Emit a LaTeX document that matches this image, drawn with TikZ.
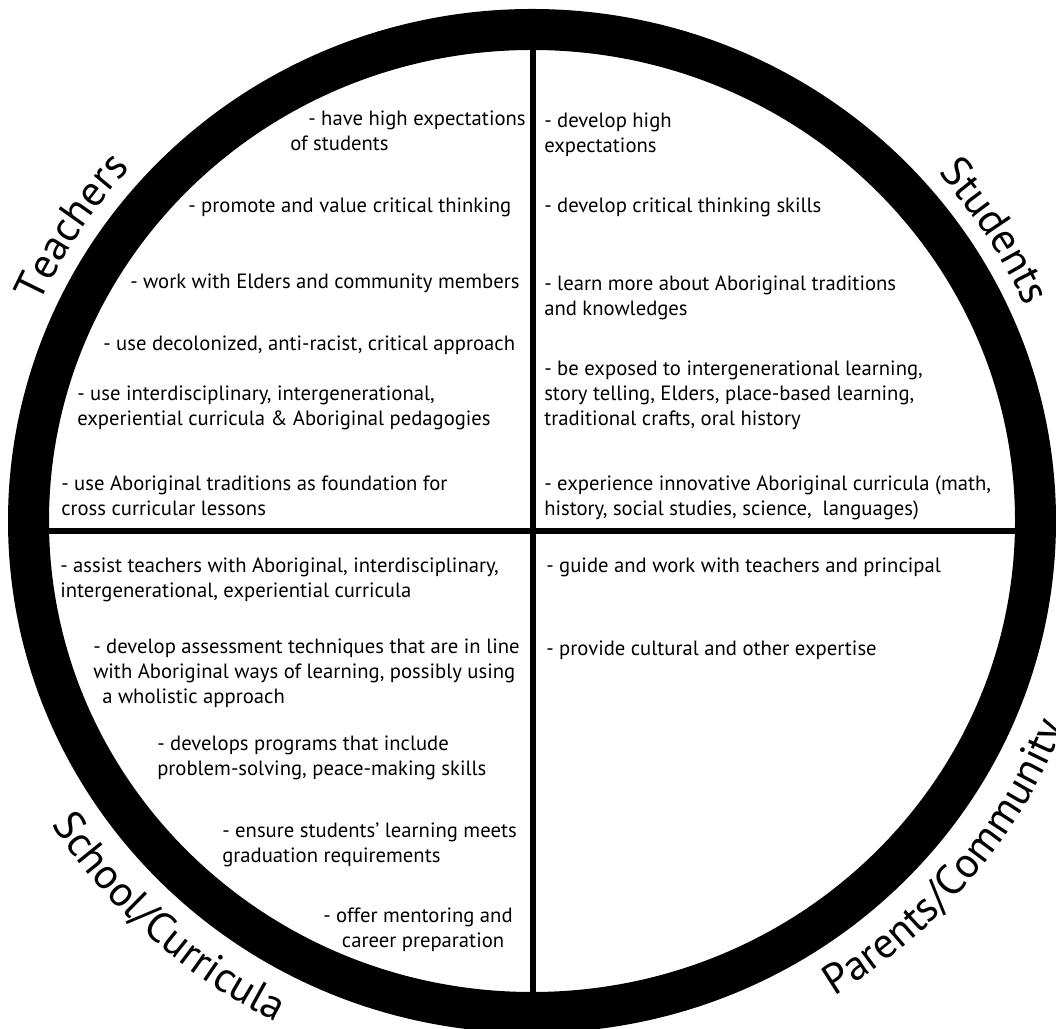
\documentclass[tikz,border=0pt]{standalone}
\usepackage{fontspec}
\setmainfont{PT Sans}
\usetikzlibrary{decorations.text}
\tikzset{
    item/.style={anchor=north west, align=left, inner sep=0pt, font=\fontsize{15.5}{19}\selectfont}, % one entry inside a quarter
    divider/.style={line width=4pt}, % the cross splitting the circle
    rim/.style={line width=30.75pt}, % the thick black ring
    rimlabel/.style={decorate, decoration={text along path, text align=center, text={|\rimfont|#1}}}, % curved group name
}
\newcommand{\rimfont}{\fontsize{32}{32}\selectfont}

\begin{document}
\begin{tikzpicture}[x=0.75pt, y=0.75pt]
    \useasboundingbox (0,0) rectangle (1056,1028);
    \clip (0,0) rectangle (1056,1028);
    \coordinate (c) at (532,507);
    \coordinate (top) at (533,1005);
    \coordinate (bottom) at (533,15);
    \coordinate (left) at (25,497);
    \coordinate (right) at (1040,497);
    \draw[divider] (top) -- (bottom);
    \draw[divider] (left) -- (right);
    \draw[rim] (c) ellipse[x radius=503.5, y radius=491.5];

    % group names round the ring
    \path[rimlabel=Teachers] (c) ++(172:540 and 528) arc[start angle=172, end angle=122, x radius=540, y radius=528];
    \path[rimlabel=Students] (c) ++(57.5:540 and 528) arc[start angle=57.5, end angle=7.5, x radius=540, y radius=528];
    \path[rimlabel=School/Curricula] (c) ++(198:572 and 560) arc[start angle=198, end angle=258, x radius=572, y radius=560];
    \path[rimlabel=Parents/Community] (c) ++(290.3:572 and 560) arc[start angle=290.3, end angle=350.3, x radius=572, y radius=560];

    % Teachers
    \node[item] (t1) at (290,920.7) {\strut\hspace*{13.5pt}- have high expectations\\of students};
    \node[item] (t2) at (188,833.7) {\strut- promote and value critical thinking};
    \node[item] (t3) at (130,757.7) {\strut- work with Elders and community members};
    \node[item] (t4) at (103,695.7) {\strut- use decolonized, anti-racist, critical approach};
    \node[item] (t5) at (77,645.7) {\strut- use interdisciplinary, intergenerational,\\experiential curricula \& Aboriginal pedagogies};
    \node[item] (t6) at (61,555.7) {\strut- use Aboriginal traditions as foundation for\\cross curricular lessons};

    % Students
    \node[item] (s1) at (544,918.7) {\strut- develop high\\expectations};
    \node[item] (s2) at (544,833.7) {\strut- develop critical thinking skills};
    \node[item] (s3) at (544,755.7) {\strut- learn more about Aboriginal traditions\\and knowledges};
    \node[item] (s4) at (544,670.7) {\strut- be exposed to intergenerational learning,\\story telling, Elders, place-based learning,\\traditional crafts, oral history};
    \node[item] (s5) at (544,555.7) {\strut- experience innovative Aboriginal curricula (math,\\history, social studies, science,\ \ languages)};

    % School/Curricula
    \node[item] (c1) at (60,473.7) {\strut- assist teachers with Aboriginal, interdisciplinary,\\intergenerational, experiential curricula};
    \node[item] (c2) at (93,392.7) {\strut- develop assessment techniques that are in line\\with Aboriginal ways of learning, possibly using\\\hspace*{6.75pt}a wholistic approach};
    \node[item] (c3) at (157,295.7) {\strut- develops programs that include\\problem-solving, peace-making skills};
    \node[item] (c4) at (222,208.7) {\strut- ensure students' learning meets\\graduation requirements};
    \node[item] (c5) at (323,123.7) {\strut- offer mentoring and\\\hspace*{14pt}career preparation};

    % Parents/Community
    \node[item] (p1) at (546,473.7) {\strut- guide and work with teachers and principal};
    \node[item] (p2) at (546,390.7) {\strut- provide cultural and other expertise};
\end{tikzpicture}
\end{document}
